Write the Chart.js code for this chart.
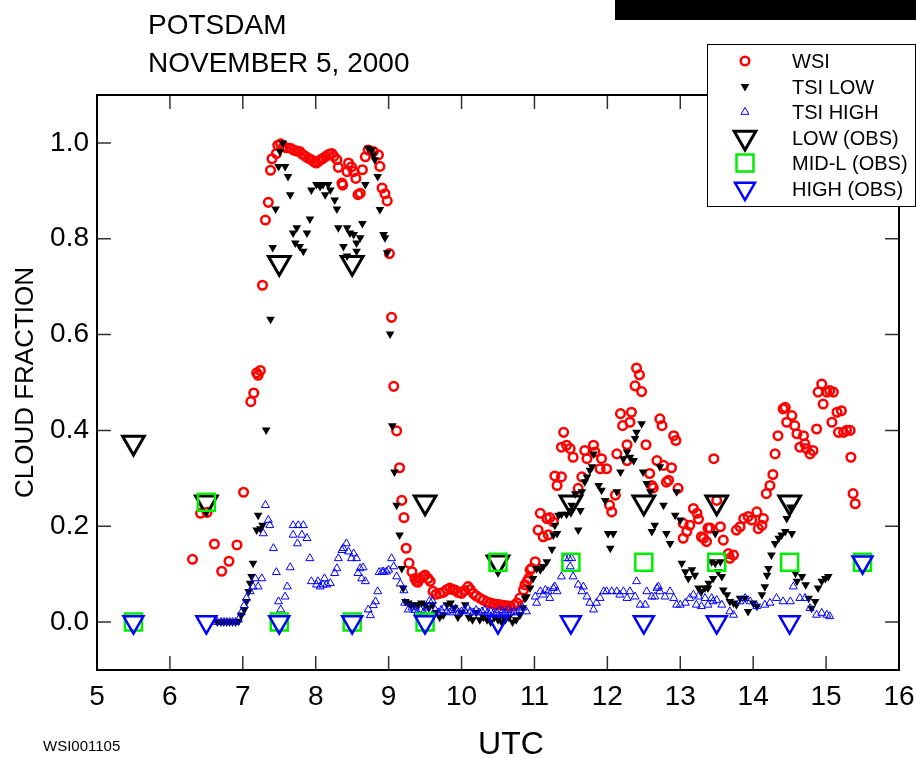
<!DOCTYPE html>
<html>
<head>
<meta charset="utf-8">
<title>Potsdam cloud fraction</title>
<script src="https://cdn.jsdelivr.net/npm/chart.js@4.4.0/dist/chart.umd.min.js"></script>
<style>
  html, body { margin: 0; padding: 0; background: #fff; }
  #wrap { width: 916px; height: 758px; position: relative; }
</style>
</head>
<body>
<div id="wrap"><canvas id="chart"></canvas></div>
<script>
// axis ticks
const xTickValues = [5, 6, 7, 8, 9, 10, 11, 12, 13, 14, 15, 16];
const yTickValues = [0, 0.2, 0.4, 0.6, 0.8, 1.0];

// WSI cloud fraction [UTC hour, fraction]
const wsiPoints = [
  [6.31,0.131],[6.42,0.227],[6.51,0.229],[6.61,0.163],[6.71,0.106],[6.81,0.127],[6.92,0.161],
  [7.01,0.271],[7.11,0.46],[7.15,0.478],[7.19,0.52],[7.21,0.515],[7.24,0.525],[7.27,0.703],
  [7.31,0.839],[7.35,0.876],[7.38,0.943],[7.40,0.967],[7.46,0.978],[7.48,0.995],[7.52,0.998],
  [7.56,0.992],[7.60,0.99],[7.65,0.989],[7.70,0.985],[7.74,0.983],[7.78,0.982],[7.82,0.976],
  [7.86,0.972],[7.90,0.968],[7.94,0.965],[7.98,0.96],[8.01,0.958],[8.04,0.962],[8.07,0.965],
  [8.10,0.968],[8.14,0.972],[8.18,0.976],[8.22,0.978],[8.25,0.972],[8.29,0.965],[8.31,0.949],
  [8.36,0.916],[8.37,0.912],[8.43,0.94],[8.45,0.958],[8.49,0.95],[8.52,0.94],[8.55,0.926],
  [8.58,0.892],[8.61,0.895],[8.64,0.944],[8.68,0.971],[8.72,0.985],[8.79,0.982],[8.86,0.975],
  [8.88,0.951],[8.91,0.906],[8.95,0.894],[8.98,0.879],[9.01,0.769],[9.04,0.636],[9.07,0.492],
  [9.11,0.399],[9.15,0.322],[9.18,0.254],[9.21,0.218],[9.24,0.154],[9.28,0.123],[9.32,0.105],
  [9.36,0.091],[9.38,0.085],[9.40,0.083],[9.43,0.091],[9.47,0.095],[9.50,0.098],[9.54,0.091],
  [9.57,0.085],[9.61,0.064],[9.65,0.058],[9.70,0.06],[9.75,0.062],[9.80,0.068],[9.84,0.071],
  [9.88,0.068],[9.91,0.067],[9.95,0.062],[10.00,0.06],[10.04,0.066],[10.09,0.074],[10.12,0.068],
  [10.16,0.06],[10.20,0.055],[10.25,0.05],[10.30,0.046],[10.35,0.042],[10.39,0.04],[10.44,0.038],
  [10.49,0.037],[10.53,0.036],[10.58,0.035],[10.63,0.034],[10.67,0.033],[10.72,0.035],[10.76,0.04],
  [10.80,0.05],[10.85,0.067],[10.87,0.078],[10.90,0.085],[10.92,0.091],[10.94,0.109],[10.96,0.112],
  [11.01,0.126],[11.05,0.192],[11.08,0.227],[11.12,0.178],[11.17,0.216],[11.19,0.182],[11.21,0.218],
  [11.26,0.209],[11.28,0.305],[11.31,0.285],[11.37,0.303],[11.37,0.365],[11.40,0.396],[11.44,0.369],
  [11.49,0.362],[11.53,0.344],[11.60,0.279],[11.65,0.303],[11.69,0.358],[11.72,0.341],[11.81,0.369],
  [11.83,0.355],[11.90,0.32],[11.92,0.341],[11.99,0.32],[12.03,0.244],[12.06,0.23],[12.11,0.265],
  [12.13,0.351],[12.18,0.435],[12.21,0.41],[12.27,0.37],[12.27,0.337],[12.31,0.417],[12.33,0.438],
  [12.38,0.493],[12.40,0.53],[12.44,0.516],[12.47,0.481],[12.53,0.37],[12.58,0.31],[12.61,0.285],
  [12.63,0.28],[12.68,0.337],[12.72,0.424],[12.75,0.41],[12.77,0.327],[12.81,0.292],[12.84,0.296],
  [12.88,0.322],[12.91,0.389],[12.94,0.379],[12.97,0.279],[13.04,0.206],[13.04,0.175],[13.09,0.189],
  [13.13,0.202],[13.18,0.237],[13.23,0.227],[13.25,0.215],[13.29,0.178],[13.32,0.175],[13.36,0.168],
  [13.38,0.196],[13.41,0.196],[13.46,0.341],[13.50,0.254],[13.55,0.199],[13.59,0.171],[13.66,0.143],
  [13.68,0.133],[13.73,0.14],[13.77,0.192],[13.82,0.199],[13.87,0.216],[13.93,0.22],[13.98,0.213],
  [14.05,0.23],[14.07,0.195],[14.12,0.202],[14.14,0.216],[14.18,0.268],[14.23,0.285],[14.27,0.308],
  [14.30,0.351],[14.34,0.389],[14.41,0.445],[14.44,0.448],[14.46,0.417],[14.53,0.431],[14.57,0.41],
  [14.60,0.393],[14.64,0.365],[14.69,0.389],[14.71,0.372],[14.73,0.362],[14.78,0.351],[14.82,0.358],
  [14.87,0.403],[14.89,0.48],[14.94,0.497],[14.96,0.455],[15.01,0.48],[15.05,0.483],[15.08,0.417],
  [15.10,0.48],[15.15,0.438],[15.17,0.396],[15.21,0.441],[15.24,0.396],[15.28,0.4],[15.33,0.4],
  [15.34,0.344],[15.37,0.268],[15.40,0.247]
];

// TSI low cloud fraction
const tsiLowPoints = [
  [6.65,0],[6.70,0],[6.74,0],[6.78,0],[6.82,0],[6.86,0],[6.90,0],[6.94,0.002],[6.98,0.015],
  [7.02,0.026],[7.05,0.043],[7.08,0.064],[7.10,0.081],[7.12,0.095],[7.14,0.123],[7.19,0.192],
  [7.21,0.223],[7.24,0.195],[7.27,0.202],[7.32,0.401],[7.38,0.632],[7.41,0.782],[7.45,0.862],
  [7.49,0.951],[7.51,0.982],[7.55,1.0],[7.58,0.951],[7.62,0.93],[7.65,0.892],[7.69,0.812],
  [7.72,0.791],[7.74,0.823],[7.78,0.784],[7.83,0.774],[7.88,0.812],[7.92,0.841],[7.94,0.902],
  [8.01,0.913],[8.06,0.909],[8.10,0.913],[8.13,0.892],[8.17,0.913],[8.20,0.902],[8.26,0.881],
  [8.29,0.862],[8.31,0.823],[8.38,0.784],[8.43,0.823],[8.43,0.764],[8.47,0.812],[8.52,0.809],
  [8.56,0.791],[8.56,0.774],[8.61,0.802],[8.64,0.832],[8.68,0.913],[8.72,0.989],[8.77,0.985],
  [8.79,0.975],[8.81,0.965],[8.85,0.93],[8.88,0.861],[8.93,0.809],[8.95,0.802],[8.98,0.771],
  [9.02,0.601],[9.05,0.41],[9.08,0.313],[9.11,0.244],[9.15,0.182],[9.18,0.112],[9.20,0.071],
  [9.23,0.043],[9.27,0.04],[9.31,0.036],[9.35,0.035],[9.40,0.036],[9.45,0.04],[9.50,0.036],
  [9.55,0.03],[9.60,0.036],[9.65,0.02],[9.70,0.01],[9.75,0.015],[9.80,0.036],[9.85,0.04],
  [9.90,0.03],[9.95,0.01],[10.00,0.02],[10.05,0.036],[10.10,0.01],[10.15,0.005],[10.20,0.02],
  [10.25,0.005],[10.30,0.01],[10.35,0.005],[10.40,0],[10.45,0.01],[10.50,0.005],[10.55,0],
  [10.60,0.005],[10.65,0.01],[10.70,0],[10.75,0.005],[10.80,0.015],[10.84,0.03],[10.87,0.05],
  [10.89,0.053],[10.94,0.071],[10.98,0.091],[11.03,0.112],[11.08,0.109],[11.12,0.116],[11.17,0.126],
  [11.24,0.152],[11.26,0.182],[11.28,0.202],[11.31,0.185],[11.33,0.223],[11.37,0.225],[11.44,0.225],
  [11.49,0.233],[11.51,0.244],[11.56,0.268],[11.60,0.192],[11.63,0.233],[11.65,0.272],[11.69,0.293],
  [11.72,0.303],[11.76,0.317],[11.79,0.324],[11.81,0.351],[11.88,0.285],[11.92,0.275],[11.97,0.254],
  [12.01,0.185],[12.04,0.154],[12.08,0.185],[12.13,0.272],[12.18,0.313],[12.22,0.341],[12.27,0.355],
  [12.31,0.344],[12.36,0.337],[12.38,0.383],[12.40,0.396],[12.47,0.414],[12.49,0.313],[12.54,0.289],
  [12.59,0.272],[12.61,0.189],[12.65,0.202],[12.72,0.324],[12.77,0.244],[12.81,0.185],[12.86,0.164],
  [12.93,0.223],[12.95,0.272],[13.00,0.213],[13.02,0.123],[13.07,0.105],[13.11,0.091],[13.16,0.109],
  [13.20,0.098],[13.25,0.071],[13.29,0.064],[13.34,0.071],[13.38,0.071],[13.39,0.081],[13.43,0.126],
  [13.45,0.091],[13.48,0.123],[13.48,0.185],[13.52,0.105],[13.55,0.126],[13.57,0.095],[13.59,0.067],
  [13.64,0.057],[13.68,0.043],[13.73,0.04],[13.77,0.036],[13.82,0.05],[13.89,0.05],[13.93,0.022],
  [14.00,0.04],[14.05,0.033],[14.12,0.057],[14.16,0.074],[14.19,0.098],[14.21,0.112],[14.25,0.14],
  [14.30,0.164],[14.35,0.175],[14.39,0.182],[14.44,0.189],[14.46,0.216],[14.51,0.24],[14.53,0.185],
  [14.58,0.102],[14.60,0.085],[14.67,0.095],[14.72,0.078],[14.76,0.05],[14.80,0.029],[14.85,0.043],
  [14.89,0.071],[14.94,0.085],[14.99,0.091],[15.03,0.095]
];

// TSI high cloud fraction
const tsiHighPoints = [
  [6.65,0],[6.70,0],[6.74,0],[6.78,0],[6.82,0],[6.86,0],[6.90,0],[6.94,0.005],[6.98,0.02],
  [7.02,0.035],[7.05,0.05],[7.10,0.064],[7.14,0.074],[7.17,0.091],[7.21,0.074],[7.26,0.091],
  [7.28,0.185],[7.31,0.244],[7.35,0.213],[7.37,0.202],[7.42,0.154],[7.46,0.104],[7.49,0.043],
  [7.52,0.026],[7.58,0.053],[7.61,0.074],[7.65,0.114],[7.69,0.202],[7.69,0.182],[7.75,0.164],
  [7.76,0.202],[7.81,0.182],[7.83,0.202],[7.88,0.175],[7.92,0.133],[7.94,0.085],[8.01,0.078],
  [8.03,0.085],[8.06,0.074],[8.10,0.078],[8.12,0.091],[8.15,0.078],[8.20,0.081],[8.26,0.102],
  [8.29,0.112],[8.31,0.133],[8.36,0.15],[8.38,0.154],[8.42,0.164],[8.45,0.147],[8.49,0.133],
  [8.52,0.143],[8.56,0.133],[8.58,0.102],[8.61,0.112],[8.63,0.091],[8.65,0.114],[8.68,0.085],
  [8.72,0.026],[8.75,0.014],[8.79,0.035],[8.82,0.043],[8.85,0.064],[8.87,0.104],[8.91,0.105],
  [8.93,0.105],[8.97,0.105],[9.00,0.109],[9.04,0.133],[9.07,0.116],[9.11,0.095],[9.16,0.08],
  [9.21,0.066],[9.22,0.04],[9.27,0.026],[9.32,0.03],[9.36,0.025],[9.40,0.02],[9.44,0.025],
  [9.48,0.02],[9.52,0.03],[9.56,0.044],[9.60,0.044],[9.64,0.025],[9.68,0.02],[9.72,0.025],
  [9.76,0.03],[9.80,0.022],[9.84,0.02],[9.88,0.025],[9.92,0.028],[9.96,0.02],[10.00,0.022],
  [10.04,0.025],[10.08,0.03],[10.12,0.022],[10.16,0.02],[10.20,0.025],[10.24,0.02],[10.28,0.022],
  [10.32,0.025],[10.36,0.02],[10.40,0.022],[10.44,0.018],[10.48,0.02],[10.52,0.025],[10.56,0.022],
  [10.60,0.02],[10.64,0.025],[10.68,0.02],[10.72,0.022],[10.76,0.02],[10.80,0.025],[10.84,0.03],
  [10.89,0.022],[11.01,0.053],[11.03,0.04],[11.08,0.064],[11.12,0.057],[11.15,0.067],[11.19,0.064],
  [11.21,0.05],[11.26,0.071],[11.28,0.074],[11.31,0.064],[11.37,0.095],[11.42,0.133],[11.47,0.133],
  [11.49,0.116],[11.51,0.133],[11.53,0.095],[11.60,0.078],[11.65,0.064],[11.67,0.074],[11.72,0.053],
  [11.76,0.04],[11.81,0.026],[11.85,0.04],[11.90,0.05],[11.95,0.064],[11.99,0.064],[12.06,0.064],
  [12.13,0.064],[12.17,0.057],[12.22,0.064],[12.27,0.05],[12.31,0.064],[12.38,0.053],[12.40,0.085],
  [12.45,0.036],[12.52,0.036],[12.54,0.064],[12.61,0.053],[12.65,0.053],[12.68,0.071],[12.70,0.074],
  [12.72,0.064],[12.79,0.053],[12.86,0.064],[12.91,0.05],[12.95,0.036],[13.00,0.036],[13.07,0.04],
  [13.13,0.05],[13.18,0.057],[13.22,0.036],[13.25,0.053],[13.29,0.033],[13.34,0.05],[13.38,0.036],
  [13.43,0.05],[13.45,0.043],[13.50,0.046],[13.57,0.036],[13.68,0.022],[13.73,0.015],[13.82,0.043],
  [13.89,0.05],[13.96,0.043],[14.05,0.033],[14.16,0.036],[14.23,0.04],[14.32,0.05],[14.41,0.043],
  [14.51,0.043],[14.55,0.074],[14.64,0.05],[14.71,0.05],[14.78,0.029],[14.87,0.015],[14.94,0.019],
  [15.01,0.015],[15.05,0.012]
];

// hourly observer reports
const obsTime = [5.5, 6.5, 7.5, 8.5, 9.5, 10.5, 11.5, 12.5, 13.5, 14.5, 15.5];
const lowObs  = [0.375, 0.25, 0.75, 0.75, 0.25, 0.125, 0.25, 0.25, 0.25, 0.25, null];
const midObs  = [0, 0.25, 0, 0, 0, 0.125, 0.125, 0.125, 0.125, 0.125, 0.125];
const highObs = [0, 0, 0, 0, 0, 0, 0, 0, 0, 0, 0.125];

const FONT = "'Liberation Sans', Arial, Helvetica, sans-serif";

const toXY = pts => pts.map(p => ({x: p[0], y: p[1]}));
const obsXY = vals => obsTime.map((t, i) => ({x: t, y: vals[i]})).filter(p => p.y !== null);

// marker styles, shared by the datasets and the legend
const series = [
  {label: 'WSI',          data: toXY(wsiPoints),     style: 'circle',   rot: 0,   r: 4.3,  bw: 2.5, stroke: '#ff0000', fill: 'rgba(0,0,0,0)', order: 6},
  {label: 'TSI LOW',      data: toXY(tsiLowPoints),  style: 'triangle', rot: 180, r: 5,    bw: 0,   stroke: '#000000', fill: '#000000',       order: 5},
  {label: 'TSI HIGH',     data: toXY(tsiHighPoints), style: 'triangle', rot: 0,   r: 4.6,  bw: 1,   stroke: '#0000ff', fill: 'rgba(0,0,0,0)', order: 4},
  {label: 'LOW (OBS)',    data: obsXY(lowObs),       style: 'triangle', rot: 180, r: 12.5, bw: 3,   stroke: '#000000', fill: 'rgba(0,0,0,0)', order: 3},
  {label: 'MID-L (OBS)',  data: obsXY(midObs),       style: 'rect',     rot: 0,   r: 12,   bw: 2.5, stroke: '#00ee00', fill: 'rgba(0,0,0,0)', order: 2},
  {label: 'HIGH (OBS)',   data: obsXY(highObs),      style: 'triangle', rot: 180, r: 11.5, bw: 2.5, stroke: '#0000ff', fill: 'rgba(0,0,0,0)', order: 1}
];

// frame with inward ticks, titles and boxed legend
const decorations = {
  id: 'decorations',
  afterDraw(chart) {
    const {ctx, chartArea: a, scales: {x, y}} = chart;
    ctx.save();

    ctx.strokeStyle = '#333';
    ctx.lineWidth = 1.5;
    ctx.beginPath();
    xTickValues.forEach(v => {
      if (v <= x.min || v >= x.max) return;
      const px = x.getPixelForValue(v);
      ctx.moveTo(px, a.top); ctx.lineTo(px, a.top + 14);
      ctx.moveTo(px, a.bottom); ctx.lineTo(px, a.bottom - 14);
    });
    yTickValues.forEach(v => {
      const py = y.getPixelForValue(v);
      ctx.moveTo(a.left, py); ctx.lineTo(a.left + 14, py);
      ctx.moveTo(a.right, py); ctx.lineTo(a.right - 14, py);
    });
    ctx.stroke();

    ctx.strokeStyle = '#000';
    ctx.lineWidth = 2;
    ctx.strokeRect(a.left, a.top, a.right - a.left, a.bottom - a.top);

    ctx.fillStyle = '#000';
    ctx.textAlign = 'left';
    ctx.textBaseline = 'alphabetic';
    ctx.font = '28px ' + FONT;
    ctx.fillText('POTSDAM', 148, 34);
    ctx.fillText('NOVEMBER 5, 2000', 148, 72);

    ctx.font = '15px ' + FONT;
    ctx.fillText('WSI001105', 43, 751);

    ctx.font = '32px ' + FONT;
    ctx.textAlign = 'center';
    ctx.fillText('UTC', 511, 754);

    ctx.save();
    ctx.translate(33, (a.top + a.bottom) / 2);
    ctx.rotate(-Math.PI / 2);
    ctx.font = '26px ' + FONT;
    ctx.fillText('CLOUD FRACTION', 0, 0);
    ctx.restore();

    // black bar at the top right
    ctx.fillRect(615, 0, 301, 20);

    // legend
    ctx.fillStyle = '#fff';
    ctx.fillRect(707, 44, 209, 163);
    ctx.strokeStyle = '#000';
    ctx.lineWidth = 1;
    ctx.strokeRect(707.5, 44.5, 208, 162);
    ctx.font = '20px ' + FONT;
    ctx.textAlign = 'left';
    series.forEach((s, i) => {
      const base = 68 + i * 25.5;
      ctx.fillStyle = '#000';
      ctx.fillText(s.label, 792, base);
      ctx.fillStyle = s.fill;
      ctx.strokeStyle = s.stroke;
      ctx.lineWidth = s.bw;
      Chart.helpers.drawPoint(ctx, {pointStyle: s.style, rotation: s.rot, radius: s.r, borderWidth: s.bw}, 745, base - 7);
    });

    ctx.restore();
  }
};

const noEdgePadding = s => { s.paddingLeft = 0; s.paddingRight = 0; s.paddingTop = 0; s.paddingBottom = 0; };

new Chart(document.getElementById('chart'), {
  type: 'scatter',
  data: {
    datasets: series.map(s => ({
      label: s.label,
      data: s.data,
      order: s.order,
      pointStyle: s.style,
      pointRotation: s.rot,
      pointRadius: s.r,
      pointBorderWidth: s.bw,
      pointBorderColor: s.stroke,
      pointBackgroundColor: s.fill,
      showLine: false
    }))
  },
  options: {
    responsive: true,
    maintainAspectRatio: false,
    animation: false,
    events: [],
    layout: { padding: { top: 95, right: 17, left: 0, bottom: 0 } },
    plugins: { legend: { display: false }, tooltip: { enabled: false } },
    scales: {
      x: {
        type: 'linear',
        min: 5, max: 16,
        grid: { display: false, drawTicks: false },
        border: { display: false },
        afterBuildTicks: s => { s.ticks = xTickValues.map(v => ({value: v})); },
        afterFit: s => { s.height = 88; noEdgePadding(s); },
        ticks: { color: '#000', font: { family: FONT, size: 28 }, padding: 10, maxRotation: 0, autoSkip: false }
      },
      y: {
        type: 'linear',
        min: -0.1, max: 1.1,
        grid: { display: false, drawTicks: false },
        border: { display: false },
        afterBuildTicks: s => { s.ticks = yTickValues.map(v => ({value: v})); },
        afterFit: s => { s.width = 97; noEdgePadding(s); },
        ticks: { color: '#000', font: { family: FONT, size: 28 }, padding: 8, callback: v => v.toFixed(1) }
      }
    }
  },
  plugins: [decorations]
});
</script>
</body>
</html>
